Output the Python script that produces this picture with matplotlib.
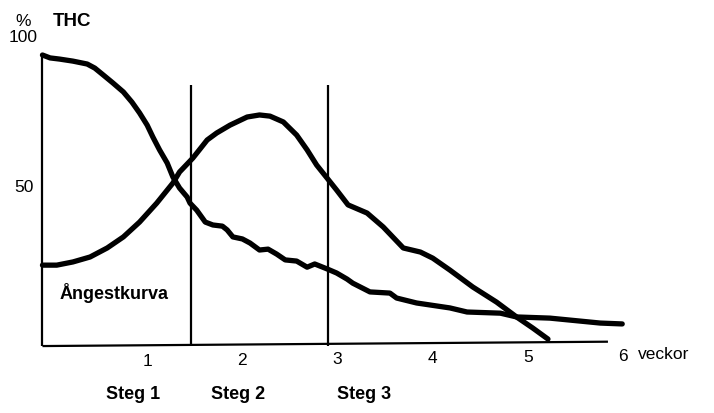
import matplotlib
matplotlib.use("Agg")
import matplotlib.pyplot as plt

# THC curve (weeks, percent)
thc_x = [-0.1, -0.02, 0.08, 0.22, 0.37, 0.45, 0.54, 0.64, 0.75, 0.84, 0.92, 1.00, 1.06,
         1.13, 1.21, 1.27, 1.34, 1.42, 1.45, 1.52, 1.61, 1.69, 1.79, 1.84, 1.90, 2.00,
         2.08, 2.18, 2.27, 2.36, 2.45, 2.57, 2.68, 2.76, 2.89, 2.99, 3.10, 3.16, 3.34,
         3.55, 3.62, 3.83, 4.18, 4.36, 4.71, 4.88, 5.23, 5.76, 5.99]
thc_y = [100.0, 99.0, 98.6, 97.9, 96.9, 95.5, 93.1, 90.4, 87.3, 83.8, 80.1, 75.9, 71.8,
         67.4, 62.9, 58.1, 54.3, 51.2, 49.1, 46.7, 42.6, 41.6, 41.2, 39.9, 37.5, 36.8,
         35.4, 33.0, 33.3, 31.6, 29.6, 29.2, 27.1, 28.2, 26.5, 25.1, 23.0, 21.6, 18.6,
         18.2, 16.5, 14.8, 13.1, 11.7, 11.3, 10.0, 9.6, 7.9, 7.6]

# Anxiety curve ("Ångestkurva")
ang_x = [-0.1, 0.05, 0.22, 0.40, 0.58, 0.75, 0.92, 1.10, 1.27, 1.34, 1.48, 1.63, 1.73,
         1.87, 2.05, 2.18, 2.29, 2.43, 2.57, 2.68, 2.78, 2.89, 2.99, 3.11, 3.31, 3.48,
         3.69, 3.87, 4.00, 4.18, 4.42, 4.67, 4.88, 5.05, 5.21]
ang_y = [27.8, 27.8, 28.9, 30.6, 33.7, 37.5, 42.6, 49.1, 56.0, 59.8, 64.6, 70.8, 73.2,
         75.9, 78.7, 79.4, 79.0, 77.0, 72.5, 67.4, 62.2, 57.7, 53.6, 48.5, 45.7, 40.9,
         33.7, 32.3, 30.2, 26.1, 20.3, 15.1, 10.0, 6.2, 2.4]

# stage boundaries (weeks) and their height
steg_lines = [1.46, 2.90]
steg_top = 89.7
week_ticks = [1, 2, 3, 4, 5, 6]
steg_labels = ["Steg 1", "Steg 2", "Steg 3"]
steg_pos = [0.85, 1.95, 3.28]

plt.rcParams["font.family"] = ["Liberation Sans", "DejaVu Sans"]

fig = plt.figure(figsize=(7.14, 4.13), dpi=100)
ax = fig.add_axes([0, 0, 1, 1])
ax.set_xlim(-0.546, 6.954)
ax.set_ylim(-23.0, 118.9)
ax.axis("off")

# axes drawn by hand, like the original sketch
ax.plot([-0.1, -0.1], [0, 100], color="black", lw=1.6, solid_capstyle="butt")
ax.plot([-0.1, 5.84], [0, 1.5], color="black", lw=1.6, solid_capstyle="butt")
for x in steg_lines:
    ax.plot([x, x], [0, steg_top], color="black", lw=1.6, solid_capstyle="butt")

line_kw = dict(color="black", lw=3.8, solid_capstyle="round", solid_joinstyle="round")
ax.plot(thc_x, thc_y, **line_kw)
ax.plot(ang_x, ang_y, **line_kw)

for k in week_ticks:
    ax.text(k, -5.5 + 0.3 * k, str(k), ha="center", va="center", fontsize=12.5)
ax.text(6.16, -2.8, "veckor", ha="left", va="center", fontsize=12.5)

for lab, x in zip(steg_labels, steg_pos):
    ax.text(x, -16.5, lab, ha="center", va="center", fontsize=13, fontweight="bold")

fig.text(23 / 714, 1 - 22 / 413, "%", ha="center", va="center", fontsize=12.5)
fig.text(53 / 714, 1 - 22 / 413, "THC", ha="left", va="center", fontsize=13.5, fontweight="bold")
fig.text(23 / 714, 1 - 38 / 413, "100", ha="center", va="center", fontsize=12.5)
fig.text(24 / 714, 1 - 188 / 413, "50", ha="center", va="center", fontsize=12.5)
fig.text(60 / 714, 1 - 293 / 413, "Ångestkurva", ha="left", va="center", fontsize=13,
         fontweight="bold")

fig.savefig("out.png", dpi=100)
plt.close(fig)
